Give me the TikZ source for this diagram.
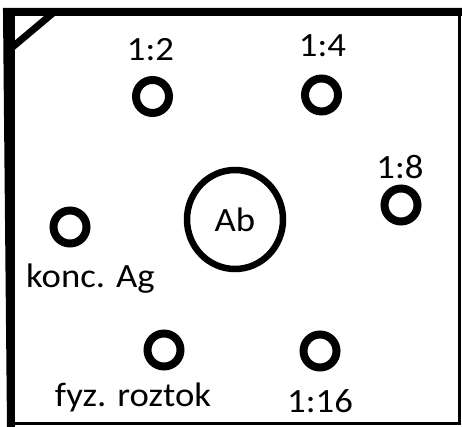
\documentclass[tikz,border=0pt]{standalone}
\usepackage{fontspec}
\setmainfont{Carlito}[FakeStretch=1.08]
\usetikzlibrary{shapes.geometric}
\begin{document}
\begin{tikzpicture}[x=1pt,y=-1pt,
  ring/.style={draw=black, line width=8pt, circle, inner sep=0pt, minimum size=33pt},
  bigring/.style={draw=black, line width=6.5pt, ellipse, inner sep=0pt, minimum width=96pt, minimum height=99pt, font=\fontsize{34}{34}\selectfont},
  lbl/.style={anchor=base, inner sep=0pt, font=\fontsize{34}{34}\selectfont},
  thickedge/.style={line width=8pt},
  thinedge/.style={line width=3pt}]
\useasboundingbox (0,0) rectangle (462,427);
% frame
\coordinate (tl) at (11,12);
\coordinate (bl) at (11,427);
\coordinate (tr) at (462,12);
\coordinate (rt) at (459.5,10);
\coordinate (rb) at (459.5,425);
\coordinate (bL) at (7,423.5);
\coordinate (bR) at (461,423.5);
\coordinate (dA) at (53,13);
\coordinate (dB) at (9,50);
\draw[thickedge] (bl) -- (7,12) -- (tr);
\draw[thickedge] (11,8) -- (bl);
\draw[thinedge] (rt) -- (rb);
\draw[thinedge] (bL) -- (bR);
\draw[line width=7pt] (dA) -- (dB);
% wells
\node[ring] (r12) at (152.5,96.5) {};
\node[ring] (r14) at (321.5,95) {};
\node[ring] (r18) at (401,205) {};
\node[ring] (rag) at (70,227) {};
\node[ring] (rfyz) at (164,350) {};
\node[ring] (r116) at (320,351) {};
\node[bigring] (ab) at (235,219.5) {Ab};
% labels
\node[lbl] (t12) at (150.5,61) {1:2};
\node[lbl] (t14) at (322.5,57) {1:4};
\node[lbl] (t18) at (400,179) {1:8};
\node[lbl] (tag) at (90.5,287) {konc. Ag};
\node[lbl] (tfyz) at (133,406) {fyz. roztok};
\node[lbl] (t116) at (320,412) {1:16};
\end{tikzpicture}
\end{document}
